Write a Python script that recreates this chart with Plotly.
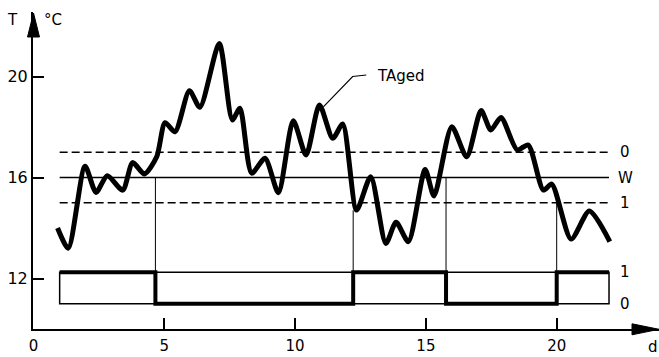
import plotly.graph_objects as go

# Aged room temperature TAged over time
time_h = [0.92, 1.33, 1.97, 2.39, 2.82, 3.41, 3.79, 4.24, 4.71, 5.03, 5.41, 5.96,
          6.36, 7.10, 7.60, 7.89, 8.34, 8.85, 9.36, 9.93, 10.42, 10.93, 11.44,
          11.82, 12.35, 12.89, 13.47, 13.86, 14.33, 14.97, 15.31, 15.99, 16.56,
          17.11, 17.48, 17.87, 18.49, 18.91, 19.49, 19.81, 20.55, 21.25, 22.03]
t_aged = [14.0, 13.2, 16.45, 15.41, 16.07, 15.50, 16.59, 16.14, 16.82, 18.17, 17.81,
          19.44, 18.78, 21.31, 18.28, 18.74, 16.17, 16.76, 15.40, 18.25, 16.89,
          18.87, 17.55, 18.12, 14.71, 16.03, 13.39, 14.23, 13.46, 16.32, 15.27,
          18.01, 16.82, 18.65, 17.88, 18.38, 17.09, 17.29, 15.50, 15.74, 13.56,
          14.67, 13.46]

# Setpoint W and the switching thresholds around it
setpoint = 16
upper_threshold = 17   # output switches to 0
lower_threshold = 15   # output switches to 1
band_start, band_end = 1, 22

# Two-level controller output
switch_times = [1, 4.66, 12.22, 15.77, 20.0, 22]
switch_states = [1, 0, 1, 0, 1, 1]
level_on, level_off = 12.25, 11
switch_line_tops = [16.0, 14.7, 16.0, 15.0]   # where the guide lines end at each switch

x_ticks = [0, 5, 10, 15, 20]
y_ticks = [12, 16, 20]

# ---- page geometry ----
W, H = 659, 357
ML, MR, MT, MB = 33, 0, 12, 28
PX_PER_X = 26.16
PX_PER_Y = 25.25
X0_PX = 33.5           # pixel column of x = 0
Y_MIN = 10

x_lo = -(X0_PX - ML) / PX_PER_X
x_hi = x_lo + (W - ML - MR) / PX_PER_X
y_hi = Y_MIN + (H - MT - MB) / PX_PER_Y


def px_x(px):
    return x_lo + (px - ML) / PX_PER_X


def px_y(py):
    return Y_MIN + (H - MB - py) / PX_PER_Y


def paper_x(px):
    return (px - ML) / (W - ML - MR)


def paper_y(py):
    return (H - MB - py) / (H - MT - MB)


FONT = "DejaVu Sans"
INK = "black"

fig = go.Figure()

# controller output as a step line
fig.add_trace(go.Scatter(
    x=switch_times,
    y=[level_on if s else level_off for s in switch_states],
    mode="lines", line=dict(color=INK, width=4, shape="hv"),
    hoverinfo="skip"))

# guide lines from the output up to the temperature
gx, gy = [], []
for t, top in zip(switch_times[1:-1], switch_line_tops):
    gx += [t, t, None]
    gy += [level_on, top, None]
fig.add_trace(go.Scatter(x=gx, y=gy, mode="lines",
                         line=dict(color=INK, width=1), hoverinfo="skip"))

# temperature curve
fig.add_trace(go.Scatter(
    x=time_h, y=t_aged, mode="lines",
    line=dict(color=INK, width=5, shape="spline", smoothing=0.7),
    hoverinfo="skip"))

# TAged leader line
lead_x = [11.08, 12.2, 12.72]
lead_y = [18.8, 20.0, 20.06]
fig.add_trace(go.Scatter(x=lead_x, y=lead_y, mode="lines",
                         line=dict(color=INK, width=1.2), hoverinfo="skip"))

# threshold and setpoint lines
for level, dash in [(upper_threshold, "8px,4px"), (setpoint, "solid"),
                    (lower_threshold, "8px,4px")]:
    fig.add_shape(type="line", x0=band_start, x1=band_end, y0=level, y1=level,
                  line=dict(color=INK, width=1.5, dash=dash))

# frame of the output band
fig.add_shape(type="rect", x0=band_start, x1=band_end, y0=level_off, y1=level_on,
              line=dict(color=INK, width=1.5))

# axis arrow heads
tip_x, half = paper_x(X0_PX), 6 / (W - ML - MR)
fig.add_shape(type="path", xref="paper", yref="paper",
              path=f"M{tip_x - half},{paper_y(37)} L{tip_x},{paper_y(13)} "
                   f"L{tip_x + half},{paper_y(37)} Z",
              fillcolor=INK, line=dict(color=INK, width=1))
hh = 5.5 / (H - MT - MB)
fig.add_shape(type="path", xref="paper", yref="paper",
              path=f"M{paper_x(632)},{paper_y(329.3) - hh} L{paper_x(659)},{paper_y(329.3)} "
                   f"L{paper_x(632)},{paper_y(329.3) + hh} Z",
              fillcolor=INK, line=dict(color=INK, width=1))

# labels
ann = dict(showarrow=False, font=dict(family=FONT, size=15, color=INK))
right_x = px_x(625)
for level, txt in [(upper_threshold, "0"), (setpoint, "W"), (lower_threshold, "1"),
                   (level_on, "1"), (level_off, "0")]:
    fig.add_annotation(x=right_x, y=level, text=txt, xanchor="center",
                       yanchor="middle", **ann)
fig.add_annotation(x=px_x(375), y=px_y(75.5), text="TAged", xanchor="left",
                   yanchor="middle", **ann)
fig.add_annotation(xref="paper", yref="paper", x=paper_x(12), y=paper_y(20),
                   text="T", xanchor="center", yanchor="middle", **ann)
fig.add_annotation(xref="paper", yref="paper", x=paper_x(53), y=paper_y(20),
                   text="°C", xanchor="center", yanchor="middle", **ann)
fig.add_annotation(xref="paper", yref="paper", x=paper_x(646), y=paper_y(347),
                   text="d", xanchor="left", yanchor="middle", **ann)

axis_common = dict(showgrid=False, zeroline=False, showline=True, linecolor=INK,
                   linewidth=2, ticks="inside", tickcolor=INK, tickwidth=1.5,
                   automargin=False)
fig.update_xaxes(range=[x_lo, x_hi], tickvals=x_ticks, ticklen=11,
                 ticklabelstandoff=2,
                 tickfont=dict(family=FONT, size=15, color=INK), **axis_common)
fig.update_yaxes(range=[Y_MIN, y_hi], tickvals=y_ticks, ticklen=11,
                 tickfont=dict(family=FONT, size=16, color=INK), **axis_common)

fig.update_layout(width=W, height=H, margin=dict(l=ML, r=MR, t=MT, b=MB),
                  paper_bgcolor="white", plot_bgcolor="white", showlegend=False)

fig.write_html("out.html")
